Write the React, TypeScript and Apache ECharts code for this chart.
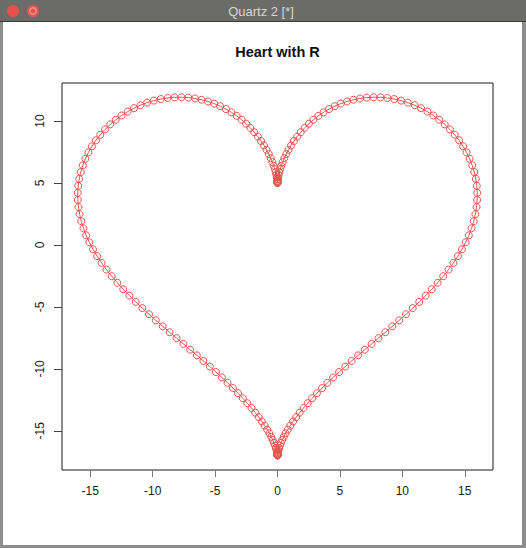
import React, { useEffect, useRef } from "react";
import * as echarts from "echarts";

const chartTitle = "Heart with R";
const windowTitle = "Quartz 2 [*]";
const xTicks = [-15, -10, -5, 0, 5, 10, 15];
const yTicks = [-15, -10, -5, 0, 5, 10];

// right half of the heart (top cusp -> bottom cusp)
const rightX = [0, 0.0, 0.003, 0.012, 0.027, 0.053, 0.092, 0.145, 0.215, 0.304, 0.413, 0.544, 0.7, 0.879, 1.085, 1.317, 1.576, 1.862, 2.175, 2.514, 2.88, 3.272, 3.688, 4.127, 4.587, 5.067, 5.566, 6.079, 6.606, 7.144, 7.69, 8.242, 8.796, 9.349, 9.899, 10.443, 10.977, 11.498, 12.003, 12.49, 12.955, 13.395, 13.809, 14.193, 14.545, 14.863, 15.145, 15.389, 15.594, 15.758, 15.88, 15.96, 15.997, 15.991, 15.942, 15.85, 15.716, 15.54, 15.324, 15.069, 14.777, 14.449, 14.088, 13.696, 13.274, 12.826, 12.355, 11.863, 11.353, 10.828, 10.291, 9.746, 9.195, 8.641, 8.087, 7.537, 6.993, 6.457, 5.934, 5.424, 4.931, 4.456, 4.001, 3.569, 3.16, 2.775, 2.416, 2.084, 1.779, 1.5, 1.249, 1.025, 0.826, 0.654, 0.505, 0.38, 0.277, 0.194, 0.128, 0.08, 0.045, 0.022, 0.009, 0.002, 0.0];
const rightY = [5, 5.018, 5.074, 5.165, 5.291, 5.451, 5.643, 5.865, 6.115, 6.39, 6.687, 7.003, 7.335, 7.678, 8.03, 8.387, 8.745, 9.099, 9.448, 9.786, 10.109, 10.416, 10.702, 10.964, 11.199, 11.405, 11.579, 11.719, 11.824, 11.892, 11.922, 11.913, 11.864, 11.776, 11.649, 11.483, 11.279, 11.037, 10.76, 10.448, 10.104, 9.729, 9.325, 8.894, 8.44, 7.963, 7.466, 6.953, 6.424, 5.883, 5.331, 4.771, 4.205, 3.635, 3.062, 2.488, 1.915, 1.344, 0.776, 0.212, -0.348, -0.901, -1.449, -1.99, -2.524, -3.052, -3.573, -4.087, -4.595, -5.097, -5.592, -6.082, -6.566, -7.045, -7.519, -7.987, -8.451, -8.91, -9.364, -9.812, -10.256, -10.693, -11.124, -11.548, -11.964, -12.372, -12.77, -13.157, -13.533, -13.896, -14.245, -14.579, -14.896, -15.195, -15.476, -15.736, -15.975, -16.19, -16.383, -16.551, -16.692, -16.808, -16.897, -16.959, -16.993];

// left half of the heart (bottom cusp -> top cusp)
const leftX = [-0.0, -0.002, -0.009, -0.022, -0.045, -0.08, -0.128, -0.194, -0.277, -0.38, -0.505, -0.654, -0.826, -1.025, -1.249, -1.5, -1.779, -2.084, -2.416, -2.775, -3.16, -3.569, -4.001, -4.456, -4.931, -5.424, -5.934, -6.457, -6.993, -7.537, -8.087, -8.641, -9.195, -9.746, -10.291, -10.828, -11.353, -11.863, -12.355, -12.826, -13.274, -13.696, -14.088, -14.449, -14.777, -15.069, -15.324, -15.54, -15.716, -15.85, -15.942, -15.991, -15.997, -15.96, -15.88, -15.758, -15.594, -15.389, -15.145, -14.863, -14.545, -14.193, -13.809, -13.395, -12.955, -12.49, -12.003, -11.498, -10.977, -10.443, -9.899, -9.349, -8.796, -8.242, -7.69, -7.144, -6.606, -6.079, -5.566, -5.067, -4.587, -4.127, -3.688, -3.272, -2.88, -2.514, -2.175, -1.862, -1.576, -1.317, -1.085, -0.879, -0.7, -0.544, -0.413, -0.304, -0.215, -0.145, -0.092, -0.053, -0.027, -0.012, -0.003, -0.0];
const leftY = [-16.993, -16.959, -16.897, -16.808, -16.692, -16.551, -16.383, -16.19, -15.975, -15.736, -15.476, -15.195, -14.896, -14.579, -14.245, -13.896, -13.533, -13.157, -12.77, -12.372, -11.964, -11.548, -11.124, -10.693, -10.256, -9.812, -9.364, -8.91, -8.451, -7.987, -7.519, -7.045, -6.566, -6.082, -5.592, -5.097, -4.595, -4.087, -3.573, -3.052, -2.524, -1.99, -1.449, -0.901, -0.348, 0.212, 0.776, 1.344, 1.915, 2.488, 3.062, 3.635, 4.205, 4.771, 5.331, 5.883, 6.424, 6.953, 7.466, 7.963, 8.44, 8.894, 9.325, 9.729, 10.104, 10.448, 10.76, 11.037, 11.279, 11.483, 11.649, 11.776, 11.864, 11.913, 11.922, 11.892, 11.824, 11.719, 11.579, 11.405, 11.199, 10.964, 10.702, 10.416, 10.109, 9.786, 9.448, 9.099, 8.745, 8.387, 8.03, 7.678, 7.335, 7.003, 6.687, 6.39, 6.115, 5.865, 5.643, 5.451, 5.291, 5.165, 5.074, 5.018];

const FONT = "'Liberation Sans', Arial, Helvetica, sans-serif";
const RED = "#e6544c";

export default function App() {
  const ref = useRef<HTMLDivElement>(null);

  useEffect(() => {
    if (!ref.current) return;
    const chart = echarts.init(ref.current, null, { renderer: "svg" });
    const xs = [...rightX, ...leftX];
    const ys = [...rightY, ...leftY];
    const data = xs.map((x, i) => [x, ys[i]]);

    chart.setOption({
      animation: false,
      backgroundColor: "#ffffff",
      grid: {
        left: 62,
        top: 83,
        width: 431,
        height: 387,
        show: true,
        borderColor: "#1a1a1a",
        borderWidth: 1,
        backgroundColor: "transparent",
        containLabel: false,
      },
      xAxis: {
        type: "value",
        position: "bottom",
        min: -17.26,
        max: 17.26,
        splitLine: { show: false },
        axisLine: { show: false, onZero: false },
        axisTick: {
          show: true,
          length: 7,
          customValues: xTicks,
          lineStyle: { color: "#777", width: 1 },
        },
        axisLabel: {
          customValues: xTicks,
          margin: 15,
          fontSize: 12,
          color: "#1a1a1a",
          fontFamily: FONT,
        },
      },
      yAxis: {
        type: "value",
        position: "left",
        min: -18.16,
        max: 13.07,
        splitLine: { show: false },
        axisLine: { show: false, onZero: false },
        axisTick: {
          show: true,
          length: 8,
          customValues: yTicks,
          lineStyle: { color: "#444", width: 1 },
        },
        axisLabel: {
          customValues: yTicks,
          rotate: 90,
          margin: 16,
          fontSize: 12,
          color: "#1a1a1a",
          fontFamily: FONT,
        },
      },
      graphic: [
        { type: "rect", shape: { x: 0, y: 0, width: 526, height: 21 }, style: { fill: "#6b6b69" } },
        { type: "rect", shape: { x: 0, y: 21, width: 526, height: 1 }, style: { fill: "#3a3a3a" } },
        { type: "rect", shape: { x: 0, y: 22, width: 3, height: 526 }, style: { fill: "#8e8e8e" } },
        { type: "rect", shape: { x: 522, y: 22, width: 4, height: 526 }, style: { fill: "#8e8e8e" } },
        { type: "rect", shape: { x: 0, y: 545, width: 526, height: 3 }, style: { fill: "#8e8e8e" } },
        { type: "circle", shape: { cx: 13, cy: 11, r: 6 }, style: { fill: "#e6524a" } },
        { type: "circle", shape: { cx: 33, cy: 11, r: 6 }, style: { fill: "#e25550" } },
        { type: "ring", shape: { cx: 33, cy: 11, r: 4, r0: 2.5 }, style: { fill: "rgba(255,190,190,0.55)" } },
        {
          type: "text",
          x: 261,
          y: 11,
          style: {
            text: windowTitle,
            fill: "#d6d6d6",
            font: "13px " + FONT,
            textAlign: "center",
            textVerticalAlign: "middle",
          },
        },
        {
          type: "text",
          x: 277.5,
          y: 52,
          style: {
            text: chartTitle,
            fill: "#111",
            font: "bold 14.5px " + FONT,
            textAlign: "center",
            textVerticalAlign: "middle",
          },
        },
      ],
      series: [
        {
          type: "line",
          data,
          silent: true,
          symbol: "circle",
          symbolSize: 7,
          showSymbol: true,
          showAllSymbol: true,
          lineStyle: { color: RED, width: 1 },
          itemStyle: { color: "rgba(0,0,0,0)", borderColor: RED, borderWidth: 1 },
          emphasis: { disabled: true },
        },
      ],
    });

    return () => chart.dispose();
  }, []);

  return (
    <div
      ref={ref}
      style={{ position: "fixed", left: 0, top: 0, width: 526, height: 548 }}
    />
  );
}
